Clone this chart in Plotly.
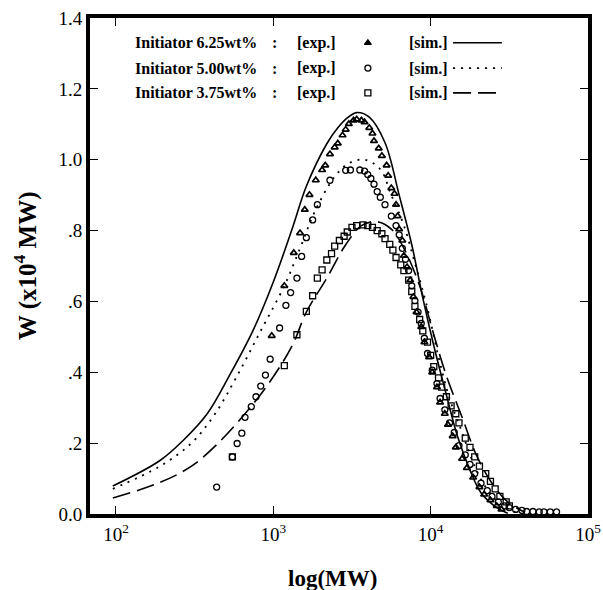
import plotly.graph_objects as go

# ---------------- data (log10 of MW, W in 1e4 MW units) ----------------
sim625_logmw = [1.98, 2.28, 2.43, 2.58, 2.72, 2.87, 3.00, 3.12, 3.21, 3.34, 3.41, 3.47, 3.53,
                3.61, 3.71, 3.80, 3.88, 3.95, 4.02, 4.10, 4.17, 4.25, 4.32, 4.42, 4.49]
sim625_w = [0.079, 0.151, 0.209, 0.283, 0.390, 0.517, 0.655, 0.805, 0.925, 1.045, 1.090, 1.118, 1.133,
            1.120, 1.048, 0.900, 0.760, 0.610, 0.475, 0.336, 0.220, 0.124, 0.060, 0.018, 0.002]

sim500_logmw = [1.98, 2.28, 2.48, 2.63, 2.77, 2.92, 3.07, 3.17, 3.26, 3.39, 3.48, 3.58,
                3.68, 3.75, 3.83, 3.90, 3.98, 4.05, 4.12, 4.20, 4.27, 4.34, 4.44, 4.54]
sim500_w = [0.071, 0.135, 0.200, 0.283, 0.390, 0.517, 0.644, 0.750, 0.850, 0.952, 0.990, 1.000,
            0.973, 0.900, 0.814, 0.708, 0.580, 0.443, 0.326, 0.230, 0.145, 0.082, 0.029, 0.005]

sim375_logmw = [1.98, 2.28, 2.48, 2.65, 2.82, 2.97, 3.12, 3.21, 3.34, 3.46, 3.56, 3.66,
                3.75, 3.83, 3.93, 4.02, 4.10, 4.20, 4.29, 4.39, 4.49, 4.59]
sim375_w = [0.045, 0.089, 0.135, 0.200, 0.283, 0.368, 0.475, 0.570, 0.666, 0.760, 0.814, 0.825,
            0.804, 0.750, 0.644, 0.506, 0.390, 0.273, 0.167, 0.087, 0.034, 0.007]

exp625_logmw = [2.99, 3.07, 3.13, 3.17, 3.20, 3.23, 3.27, 3.31, 3.33, 3.36, 3.39, 3.41, 3.44, 3.46,
                3.48, 3.51, 3.53, 3.56, 3.58, 3.61, 3.63, 3.64, 3.67, 3.69, 3.72, 3.73, 3.75, 3.77,
                3.78, 3.79, 3.80, 3.82, 3.83, 3.85, 3.87, 3.89, 3.91, 3.94, 3.96, 3.99, 4.01, 4.04,
                4.06, 4.09, 4.11, 4.14, 4.16, 4.20, 4.23, 4.27, 4.31, 4.34, 4.38, 4.42, 4.45]
exp625_w = [0.503, 0.644, 0.737, 0.793, 0.859, 0.901, 0.942, 0.971, 0.984, 1.016, 1.035, 1.046, 1.069,
            1.085, 1.101, 1.111, 1.114, 1.111, 1.106, 1.090, 1.074, 1.053, 1.032, 1.011, 0.984, 0.955,
            0.920, 0.904, 0.873, 0.841, 0.804, 0.772, 0.729, 0.697, 0.660, 0.613, 0.570, 0.528, 0.485,
            0.443, 0.400, 0.358, 0.315, 0.283, 0.252, 0.220, 0.188, 0.156, 0.130, 0.103, 0.076, 0.055,
            0.039, 0.023, 0.013]

exp500_logmw = [2.64, 2.74, 2.77, 2.80, 2.82, 2.86, 2.89, 2.92, 2.95, 2.98, 3.04, 3.08, 3.11, 3.15,
                3.18, 3.21, 3.25, 3.28, 3.36, 3.46, 3.49, 3.55, 3.58, 3.60, 3.62, 3.64, 3.66, 3.68,
                3.71, 3.75, 3.78, 3.80, 3.82, 3.84, 3.86, 3.88, 3.90, 3.92, 3.94, 3.96, 3.98, 4.01,
                4.04, 4.06, 4.09, 4.12, 4.15, 4.18, 4.22, 4.25, 4.28, 4.32, 4.36, 4.39, 4.43, 4.47,
                4.50, 4.54, 4.58, 4.61, 4.65, 4.69, 4.72, 4.76, 4.80]
exp500_w = [0.076, 0.161, 0.199, 0.228, 0.273, 0.303, 0.331, 0.361, 0.392, 0.437, 0.525, 0.589, 0.625,
            0.666, 0.727, 0.780, 0.830, 0.873, 0.942, 0.970, 0.971, 0.971, 0.968, 0.958, 0.947, 0.931,
            0.910, 0.894, 0.873, 0.841, 0.814, 0.788, 0.750, 0.719, 0.687, 0.644, 0.602, 0.570, 0.538,
            0.496, 0.453, 0.406, 0.368, 0.326, 0.294, 0.257, 0.230, 0.193, 0.167, 0.140, 0.114, 0.087,
            0.066, 0.050, 0.034, 0.023, 0.018, 0.013, 0.010, 0.007, 0.007, 0.006, 0.006, 0.006, 0.006]

exp375_logmw = [2.74, 3.07, 3.15, 3.21, 3.25, 3.28, 3.31, 3.34, 3.37, 3.39, 3.42, 3.45, 3.47, 3.50,
                3.53, 3.57, 3.60, 3.63, 3.66, 3.69, 3.71, 3.74, 3.76, 3.78, 3.81, 3.83, 3.86, 3.88,
                3.90, 3.93, 3.95, 3.98, 4.00, 4.02, 4.05, 4.07, 4.10, 4.13, 4.16, 4.18, 4.22, 4.25,
                4.28, 4.31, 4.35, 4.38, 4.41, 4.44, 4.48, 4.50]
exp375_w = [0.161, 0.419, 0.506, 0.572, 0.616, 0.666, 0.689, 0.717, 0.735, 0.756, 0.772, 0.784, 0.796,
            0.809, 0.814, 0.816, 0.814, 0.809, 0.800, 0.791, 0.777, 0.761, 0.745, 0.724, 0.703, 0.687,
            0.660, 0.628, 0.586, 0.549, 0.517, 0.485, 0.448, 0.416, 0.384, 0.358, 0.331, 0.305, 0.283,
            0.257, 0.214, 0.188, 0.161, 0.135, 0.114, 0.092, 0.071, 0.050, 0.034, 0.023]

x_tickvals = [100, 1000, 10000, 100000]
x_ticktext = ["10<sup>2</sup>", "10<sup>3</sup>", "10<sup>4</sup>", "10<sup>5</sup>"]
y_tickvals = [0.0, 0.2, 0.4, 0.6, 0.8, 1.0, 1.2, 1.4]
y_ticktext = ["0.0", ".2", ".4", ".6", ".8", "1.0", "1.2", "1.4"]

legend_labels = ["Initiator 6.25wt%", "Initiator 5.00wt%", "Initiator 3.75wt%"]
legend_symbols = ["triangle-up", "circle-open", "square-open"]
legend_dashes = ["solid", "2px,6px", "18px,7px"]

# ---------------- figure ----------------
SERIF = "Liberation Serif, Times New Roman, serif"
fig = go.Figure()

def mw(v):
    return [10 ** a for a in v]

fig.add_trace(go.Scatter(x=mw(sim625_logmw), y=sim625_w, mode="lines", line_shape="spline",
                         line=dict(color="black", width=1.6, dash=legend_dashes[0])))
fig.add_trace(go.Scatter(x=mw(sim500_logmw), y=sim500_w, mode="lines", line_shape="spline",
                         line=dict(color="black", width=1.8, dash=legend_dashes[1])))
fig.add_trace(go.Scatter(x=mw(sim375_logmw), y=sim375_w, mode="lines", line_shape="spline",
                         line=dict(color="black", width=1.6, dash=legend_dashes[2])))

fig.add_trace(go.Scatter(x=mw(exp625_logmw), y=exp625_w, mode="markers",
                         marker=dict(symbol="triangle-up-open", size=6, color="black",
                                     line=dict(width=1.7, color="black"))))
fig.add_trace(go.Scatter(x=mw(exp500_logmw), y=exp500_w, mode="markers",
                         marker=dict(symbol="circle-open", size=6, color="black",
                                     line=dict(width=1.3, color="black"))))
fig.add_trace(go.Scatter(x=mw(exp375_logmw), y=exp375_w, mode="markers",
                         marker=dict(symbol="square-open", size=6, color="black",
                                     line=dict(width=1.3, color="black"))))

# legend samples on an overlay 0..1 axis pair
leg_y = [0.950, 0.899, 0.849]
for i in range(3):
    fig.add_trace(go.Scatter(x=[0.558], y=[leg_y[i]], mode="markers", xaxis="x2", yaxis="y2",
                             marker=dict(symbol=legend_symbols[i], size=6, color="black",
                                         line=dict(width=1.3, color="black"))))
    fig.add_trace(go.Scatter(x=[0.729, 0.827], y=[leg_y[i], leg_y[i]], mode="lines",
                             xaxis="x2", yaxis="y2",
                             line=dict(color="black", width=1.6, dash=legend_dashes[i])))
    fig.add_annotation(x=0.0863, y=leg_y[i], xref="paper", yref="paper", xanchor="left",
                       yanchor="middle", showarrow=False, text="<b>%s</b>" % legend_labels[i],
                       font=dict(family=SERIF, size=16, color="black"))
    fig.add_annotation(x=0.371, y=leg_y[i], xref="paper", yref="paper", xanchor="center",
                       yanchor="middle", showarrow=False, text="<b>:</b>",
                       font=dict(family=SERIF, size=16, color="black"))
    fig.add_annotation(x=0.412, y=leg_y[i], xref="paper", yref="paper", xanchor="left",
                       yanchor="middle", showarrow=False, text="<b>[exp.]</b>",
                       font=dict(family=SERIF, size=16, color="black"))
    fig.add_annotation(x=0.637, y=leg_y[i], xref="paper", yref="paper", xanchor="left",
                       yanchor="middle", showarrow=False, text="<b>[sim.]</b>",
                       font=dict(family=SERIF, size=16, color="black"))

# axis titles as annotations (fixed positions)
fig.add_annotation(x=0.487, y=0, xref="paper", yref="paper", yshift=-64, xanchor="center",
                   yanchor="middle", showarrow=False, text="<b>log(MW)</b>",
                   font=dict(family=SERIF, size=23, color="black"))
fig.add_annotation(x=0, y=0.5, xref="paper", yref="paper", xshift=-65, xanchor="center",
                   yanchor="middle", showarrow=False, textangle=-90,
                   text="<b>W (x10<sup>4</sup> MW)</b>",
                   font=dict(family=SERIF, size=25, color="black"))

fig.update_layout(
    width=603, height=590,
    margin=dict(l=90, r=15, t=18, b=76, autoexpand=False),
    paper_bgcolor="white", plot_bgcolor="white",
    showlegend=False,
    font=dict(family=SERIF, size=19, color="black"),
    xaxis=dict(type="log", range=[1.835, 5.0], tickvals=x_tickvals, ticktext=x_ticktext,
               ticks="inside", ticklen=8, tickwidth=1, tickcolor="black",
               showline=True, linewidth=4, linecolor="black", mirror="allticks",
               showgrid=False, zeroline=False, automargin=False),
    yaxis=dict(range=[0, 1.4], tickvals=y_tickvals, ticktext=y_ticktext,
               ticks="inside", ticklen=8, tickwidth=1, tickcolor="black",
               showline=True, linewidth=4, linecolor="black", mirror="allticks",
               showgrid=False, zeroline=False, automargin=False),
    xaxis2=dict(overlaying="x", range=[0, 1], visible=False),
    yaxis2=dict(overlaying="y", range=[0, 1], visible=False),
)

fig.write_html("out.html", config={"displayModeBar": False},
               post_script="document.body.style.margin='0px';document.body.style.overflow='hidden';")
